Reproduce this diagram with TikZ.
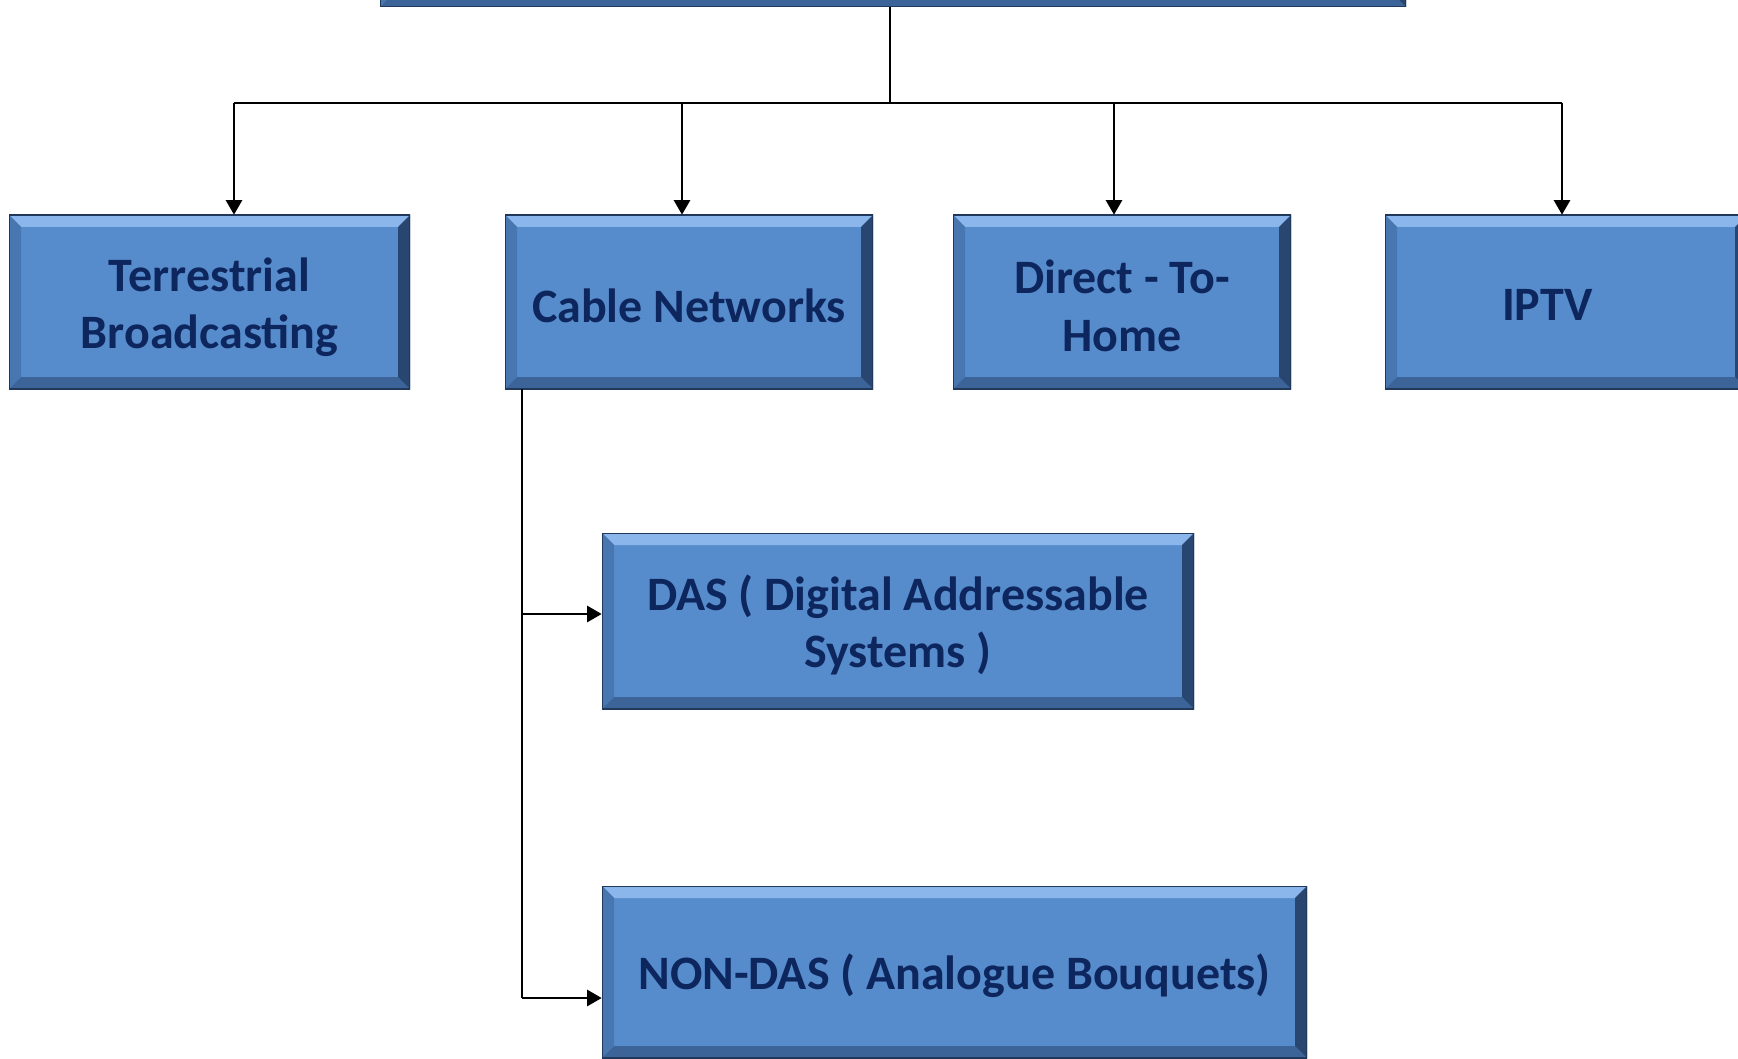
\documentclass[tikz,border=0pt]{standalone}
\usepackage{fontspec}
\setmainfont{Carlito}
\usetikzlibrary{arrows.meta}
\definecolor{boxfill}{RGB}{87,140,204}
\definecolor{bvtop}{RGB}{138,182,236}
\definecolor{bvleft}{RGB}{72,118,176}
\definecolor{bvbot}{RGB}{60,100,152}
\definecolor{bvright}{RGB}{40,70,112}
\definecolor{txt}{RGB}{14,38,94}
\tikzset{
  bevelbox/.style={rectangle, fill=boxfill, inner sep=0pt, align=center,
    font=\fontsize{36}{43}\selectfont\bfseries, text=txt,
    path picture={
      \def\bw{9pt}
      \path (path picture bounding box.south west) coordinate (sw)
            (path picture bounding box.north east) coordinate (ne);
      \fill[bvtop] (sw|-ne) -- (ne) -- ([shift={(-\bw,-\bw)}]ne) -- ([shift={(\bw,-\bw)}]sw|-ne) -- cycle;
      \fill[bvleft] (sw|-ne) -- ([shift={(\bw,-\bw)}]sw|-ne) -- ([shift={(\bw,\bw)}]sw) -- (sw) -- cycle;
      \fill[bvbot] (sw) -- ([shift={(\bw,\bw)}]sw) -- ([shift={(-\bw,\bw)}]ne|-sw) -- (ne|-sw) -- cycle;
      \fill[bvright] (ne|-sw) -- ([shift={(-\bw,\bw)}]ne|-sw) -- ([shift={(-\bw,-\bw)}]ne) -- (ne) -- cycle;
      \draw[bvright!80!black, line width=1.2pt] (sw|-ne) -- (ne) -- (ne|-sw) -- (sw) -- cycle;
    }},
  lbl/.style={align=center, font=\fontsize{36}{43}\selectfont\bfseries, text=txt, inner sep=0pt},
  arr/.style={draw=black, line width=2.2pt, -{Triangle[length=11pt,width=12pt]}},
  ln/.style={draw=black, line width=2.2pt}
}
\begin{document}
\begin{tikzpicture}[x=0.75pt,y=-0.75pt]
\useasboundingbox (0,0) rectangle (1738,1059);
\clip (0,0) rectangle (1738,1059);
\fill[white] (0,0) rectangle (1738,1059);
\node[bevelbox, minimum width=1026*0.75pt, minimum height=160*0.75pt] (top) at (893,-73) {};
\node[bevelbox, minimum width=401*0.75pt, minimum height=174*0.75pt] (terr) at (209.5,302) {};
\node[bevelbox, minimum width=368*0.75pt, minimum height=174*0.75pt] (cable) at (689,302) {};
\node[bevelbox, minimum width=338*0.75pt, minimum height=174*0.75pt] (dth) at (1122,302) {};
\node[bevelbox, minimum width=362*0.75pt, minimum height=174*0.75pt] (iptv) at (1566,302) {};
\node[bevelbox, minimum width=592*0.75pt, minimum height=176*0.75pt] (das) at (898,621) {};
\node[bevelbox, minimum width=705*0.75pt, minimum height=172*0.75pt] (nondas) at (954.5,972) {};
\node[lbl] (terrT) at ([yshift=-4pt]terr.center) {Terrestrial\\Broadcasting};
\node[lbl] (cableT) at ([yshift=-3pt]cable.center) {Cable Networks};
\node[lbl] (dthT) at ([yshift=-3pt]dth.center) {Direct - To-\\Home};
\node[lbl] (iptvT) at ([xshift=-14pt,yshift=-2pt]iptv.center) {IPTV};
\node[lbl] (dasT) at ([yshift=-3pt]das.center) {DAS ( Digital Addressable\\Systems )};
\node[lbl] (nondasT) at ([yshift=-3pt]nondas.center) {NON-DAS ( Analogue Bouquets)};
\coordinate (bus) at (890,103);
\coordinate (b1) at (234,103);
\coordinate (b2) at (682,103);
\coordinate (b3) at (1114,103);
\coordinate (b4) at (1562,103);
\draw[ln] (top.south -| bus) -- (bus);
\draw[ln] (b1) -- (b4);
\draw[arr] (b1) -- (b1 |- terr.north);
\draw[arr] (b2) -- (b2 |- cable.north);
\draw[arr] (b3) -- (b3 |- dth.north);
\draw[arr] (b4) -- (b4 |- iptv.north);
\coordinate (cv) at (522,389);
\coordinate (cd) at (522,614);
\coordinate (cn) at (522,998);
\draw[ln] (cable.south -| cv) -- (cn);
\draw[arr] (cd) -- (cd -| das.west);
\draw[arr] (cn) -- (cn -| nondas.west);
\end{tikzpicture}
\end{document}
